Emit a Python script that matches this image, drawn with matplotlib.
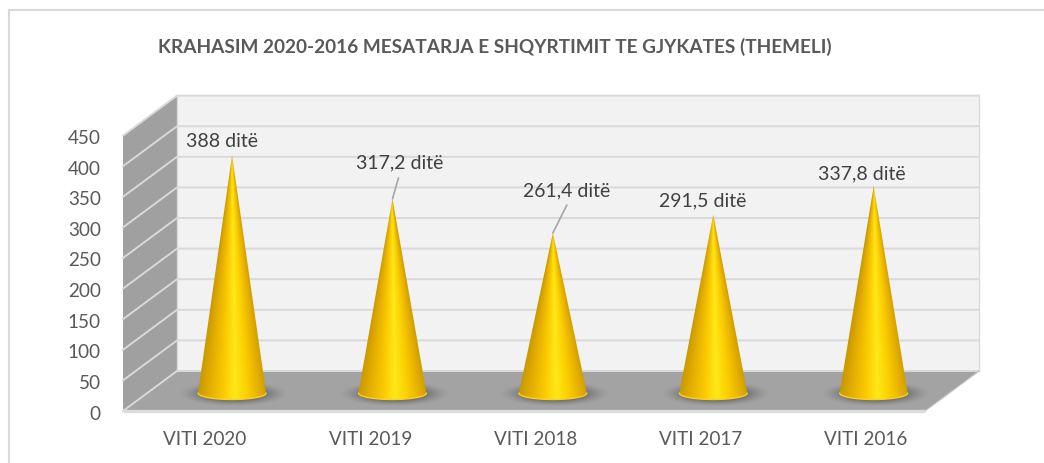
import numpy as np
import matplotlib
matplotlib.use("Agg")
import matplotlib.pyplot as plt
from matplotlib.colors import LinearSegmentedColormap
from matplotlib.lines import Line2D
from matplotlib.patches import Polygon, PathPatch
from matplotlib.path import Path
from matplotlib.transforms import ScaledTranslation

# ---- data ----
categories = ["VITI 2020", "VITI 2019", "VITI 2018", "VITI 2017", "VITI 2016"]
values = [388, 317.2, 261.4, 291.5, 337.8]
point_labels = ["388 ditë", "317,2 ditë", "261,4 ditë", "291,5 ditë", "337,8 ditë"]
y_ticks = [0, 50, 100, 150, 200, 250, 300, 350, 400, 450]
title = "KRAHASIM 2020-2016 MESATARJA E SHQYRTIMIT TE GJYKATES (THEMELI)"

# ---- layout (pixels) ----
W, H = 1044, 463
FL, FR, FB, FT = 123, 925, 411, 135.6   # front plane of the 3-D box
PX_X = (FR - FL) / 5                    # pixels per category
PX_V = (FB - FT) / 450                  # pixels per value unit
DEPTH_X = 54 / PX_X                     # box depth in data units
DEPTH_V = 40 / PX_V
MID = 0.45                              # cones stand part way into the box
CONE_DX = 0.18
CONE_V0 = MID * DEPTH_V
HALF_W = 34 / PX_X
RY = 6.5 / PX_V

plt.rcParams["font.family"] = ["Lato", "DejaVu Sans"]
TXT = "#595959"

fig = plt.figure(figsize=(W / 100, H / 100), dpi=100, facecolor="white")
ax = fig.add_axes([FL / W, 1 - FB / H, (FR - FL) / W, (FB - FT) / H])
ax.set_xlim(-0.5, 4.5)
ax.set_ylim(0, 450)
ax.patch.set_visible(False)
for s in ax.spines.values():
    s.set_visible(False)

# outer chart border
for xs, ys in (([8.5, 8.5], [10, H]), ([8.5, W], [10, 10])):
    fig.add_artist(Line2D(np.array(xs) / W, 1 - np.array(ys) / H, color="#D9D9D9", lw=1.5))

# ---- box ----
x0, x1 = ax.get_xlim()
GRID = "#D9D9D9"
ax.add_patch(Polygon([(x0 + DEPTH_X, DEPTH_V), (x1 + DEPTH_X, DEPTH_V), (x1 + DEPTH_X, 450 + DEPTH_V), (x0 + DEPTH_X, 450 + DEPTH_V)],
                     fc="#F2F2F2", ec="none", clip_on=False, zorder=1))
ax.add_patch(Polygon([(x0, 0), (x0 + DEPTH_X, DEPTH_V), (x0 + DEPTH_X, 450 + DEPTH_V), (x0, 450)],
                     fc="#A0A0A0", ec="none", clip_on=False, zorder=1))
ax.add_patch(Polygon([(x0, 0), (x1, 0), (x1 + DEPTH_X, DEPTH_V), (x0 + DEPTH_X, DEPTH_V)],
                     fc="#A3A3A3", ec="none", clip_on=False, zorder=1))
for t in y_ticks:
    ax.plot([x0, x0 + DEPTH_X, x1 + DEPTH_X], [t, t + DEPTH_V, t + DEPTH_V],
            color=GRID, lw=1.4, clip_on=False, zorder=2, solid_joinstyle="miter")
ax.plot([x1 + DEPTH_X, x1 + DEPTH_X], [DEPTH_V, 450 + DEPTH_V], color=GRID, lw=1, clip_on=False, zorder=2)
ax.plot([x0 + DEPTH_X, x0 + DEPTH_X], [DEPTH_V, 450 + DEPTH_V], color=GRID, lw=1, clip_on=False, zorder=2)
ax.plot([x1, x1 + DEPTH_X], [0, DEPTH_V], color="#BFBFBF", lw=0.8, clip_on=False, zorder=2)
ax.plot([x0, x1], [0, 0], color="#DCDCDC", lw=2.4, clip_on=False, zorder=2, solid_capstyle="butt")

# ---- cones ----
cone_cmap = LinearSegmentedColormap.from_list("cone", [
    (0.00, "#C89A00"), (0.15, "#E2AC00"), (0.38, "#FBCB00"),
    (0.55, "#FFE819"), (0.72, "#FCCF00"), (0.90, "#E6B000"), (1.00, "#CFA000")])

for i, (v, lab) in enumerate(zip(values, point_labels)):
    cx = i + CONE_DX
    apex = CONE_V0 + v

    # soft shadow on the floor
    sx = np.linspace(cx - 0.36, cx + 0.36, 160)
    sy = np.linspace(CONE_V0 - 24, CONE_V0 + 24, 90)
    gx, gy = np.meshgrid(sx, sy)
    r = np.hypot((gx - cx - 0.01) / (52 / PX_X), (gy - CONE_V0 + 1) / (12 / PX_V))
    alpha = np.clip((1.05 - r) / 0.5, 0, 1) ** 1.4 * 0.62
    rgba = np.zeros(gx.shape + (4,))
    rgba[..., :3] = 0.3
    rgba[..., 3] = alpha
    ax.imshow(rgba, extent=(sx[0], sx[-1], sy[0], sy[-1]), origin="lower", aspect="auto",
              interpolation="bilinear", zorder=3, clip_on=False)

    # cone outline: apex to base ellipse
    th = np.linspace(np.pi, 2 * np.pi, 60)
    ex = cx + HALF_W * np.cos(th)
    ey = CONE_V0 + RY * np.sin(th)
    verts = [(cx, apex)] + list(zip(ex, ey)) + [(cx, apex)]
    codes = [Path.MOVETO] + [Path.LINETO] * len(ex) + [Path.CLOSEPOLY]
    cone = PathPatch(Path(verts, codes), fc="none", ec="none", zorder=4)
    ax.add_patch(cone)

    # gradient that wraps around the cone
    ix = np.linspace(cx - HALF_W, cx + HALF_W, 200)
    iy = np.linspace(CONE_V0 - RY - 2, apex, 300)
    mx, my = np.meshgrid(ix, iy)
    half = np.maximum(HALF_W * (apex - my) / (apex - CONE_V0), 1e-4)
    half = np.minimum(half, HALF_W)
    u = np.clip((mx - cx) / half * 0.5 + 0.5, 0, 1)
    im = ax.imshow(cone_cmap(u), extent=(ix[0], ix[-1], iy[0], iy[-1]), origin="lower",
                   aspect="auto", interpolation="bilinear", zorder=4)
    im.set_clip_path(cone)

    # bright rim of the base
    ax.plot(ex, ey, color="#FFD11A", lw=1.0, zorder=5, solid_capstyle="round")

ax.set_xlim(x0, x1)
ax.set_ylim(0, 450)

# ---- data labels (offsets from the cone tips, in pixels) ----
label_off = [(-10, 14.5), (7, 36), (14, 42), (-11, 14), (-12, 12)]
leader_off = [None, (6, 21), (14, 28), None, None]
for i, (v, lab) in enumerate(zip(values, point_labels)):
    cx = i + CONE_DX
    apex = CONE_V0 + v
    ax.annotate(lab, xy=(cx, apex), xytext=label_off[i], textcoords="offset pixels",
                ha="center", va="center", fontsize=14, color="#404040", zorder=7, annotation_clip=False)
    if leader_off[i]:
        ax.annotate("", xy=(cx, apex), xytext=leader_off[i], textcoords="offset pixels",
                    arrowprops=dict(arrowstyle="-", color="#A6A6A6", lw=1.2, shrinkA=0, shrinkB=0), zorder=6)

# ---- axes text ----
ax.set_yticks(y_ticks)
ax.set_yticklabels([str(t) for t in y_ticks])
ax.set_xticks(0.011 + 1.0305 * np.arange(5))
ax.set_xticklabels(categories)
ax.tick_params(axis="y", length=0, pad=16, labelsize=13.6, labelcolor=TXT)
ax.tick_params(axis="x", length=0, pad=14.5, labelsize=13.6, labelcolor=TXT)
shift = ScaledTranslation(0, -1.5 / 100, fig.dpi_scale_trans)
for tl in ax.get_yticklabels():
    tl.set_transform(tl.get_transform() + shift)

fig.text(495 / W, 1 - 47 / H, title, ha="center", va="center", fontsize=13.7,
         fontweight="bold", color="#595959")

fig.savefig("out.png", dpi=100, facecolor="white")
